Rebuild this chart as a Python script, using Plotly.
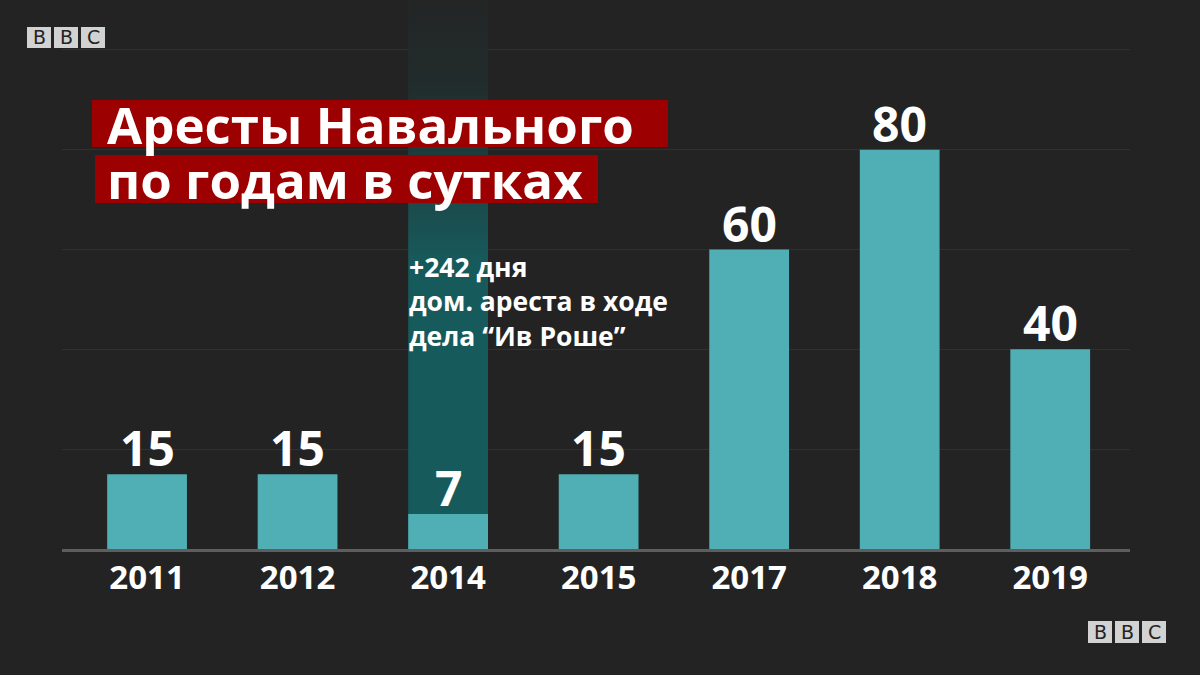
import plotly.graph_objects as go

years = ["2011", "2012", "2014", "2015", "2017", "2018", "2019"]
days = [15, 15, 7, 15, 60, 80, 40]
value_labels = ["15", "15", "7", "15", "60", "80", "40"]
title_lines = ["Аресты Навального", "по годам в сутках"]
note_text = "+242 дня<br>дом. ареста в ходе<br>дела “Ив Роше”"
highlight_year = "2014"

BG = "#232323"
BAR = "#4fafb5"
COLUMN = "#175a5c"
RED = "#9c0000"
FONT = "Open Sans"

W, H = 1200, 675
ML, MR, MT, MB = 62, 70, 0, 126
PW, PH = W - ML - MR, H - MT - MB
XR = [-0.565, 6.53]
YMAX = 110
HALF = 0.265


def px(xp):
    return (xp - ML) / PW


def py(yp):
    return (H - MB - yp) / PH


fig = go.Figure()

# highlighted background column (gradient fading to the top)
hi = years.index(highlight_year)
fig.add_trace(go.Scatter(
    x=[hi - HALF, hi + HALF, hi + HALF, hi - HALF, hi - HALF],
    y=[0, 0, YMAX, YMAX, 0], xaxis="x", yaxis="y",
    mode="none", fill="toself",
    fillgradient=dict(type="vertical", colorscale=[
        [0.0, COLUMN], [0.52, COLUMN], [0.6, "#1a4f50"], [0.73, "#1e3a3b"],
        [0.85, "#222c2c"], [1.0, "#232525"]]),
    hoverinfo="skip", showlegend=False,
))

fig.add_trace(go.Bar(
    x=years, y=days, xaxis="x2", yaxis="y",
    marker=dict(color=BAR, line=dict(width=0)),
    hoverinfo="skip", showlegend=False,
))

for i, (v, lab) in enumerate(zip(days, value_labels)):
    fig.add_annotation(xref="x", yref="y", x=i, y=v, text=lab, showarrow=False,
                       xanchor="center", yanchor="bottom", yshift=-8,
                       font=dict(family=FONT, size=48, color="white", weight="bold"))

# title boxes
fig.add_shape(type="rect", xref="paper", yref="paper", x0=px(92), x1=px(668),
              y0=py(147), y1=py(100), fillcolor=RED, line=dict(width=0), layer="above")
fig.add_shape(type="rect", xref="paper", yref="paper", x0=px(95), x1=px(598),
              y0=py(203), y1=py(155), fillcolor=RED, line=dict(width=0), layer="above")

fig.add_annotation(xref="paper", yref="paper", x=px(105), y=py(124), text=title_lines[0],
                   xanchor="left", yanchor="middle", showarrow=False,
                   font=dict(family=FONT, size=51, color="white", weight="bold"))
fig.add_annotation(xref="paper", yref="paper", x=px(105), y=py(179), text=title_lines[1],
                   xanchor="left", yanchor="middle", showarrow=False,
                   font=dict(family=FONT, size=51, color="white", weight="bold"))

fig.add_annotation(xref="paper", yref="paper", x=px(407), y=py(247), text=note_text,
                   xanchor="left", yanchor="top", align="left", showarrow=False,
                   font=dict(family=FONT, size=26.5, color="white", weight="bold"))


# BBC logos
def bbc(x_left, y_top, w, h, gap):
    for i, ch in enumerate("BBC"):
        x0 = x_left + i * (w + gap)
        fig.add_shape(type="rect", xref="paper", yref="paper", x0=px(x0), x1=px(x0 + w),
                      y0=py(y_top + h), y1=py(y_top), fillcolor="#d2d2d2",
                      line=dict(width=0), layer="above")
        fig.add_annotation(xref="paper", yref="paper", x=px(x0 + w / 2), y=py(y_top + h / 2),
                           text=ch, showarrow=False, xanchor="center", yanchor="middle",
                           font=dict(family="DejaVu Sans", size=19, color="#222222"))


bbc(27, 27, 24, 21, 3)
bbc(1088, 621, 24, 22, 3)

fig.update_layout(
    width=W, height=H, paper_bgcolor=BG, plot_bgcolor=BG,
    margin=dict(l=ML, r=MR, t=MT, b=MB), bargap=0.47,
    xaxis=dict(type="linear", range=XR, showgrid=False, showline=False, zeroline=False,
               showticklabels=False, ticks=""),
    xaxis2=dict(type="category", range=XR, overlaying="x", side="bottom", showgrid=False,
                showline=True, linecolor="#5e5e5e", linewidth=3, ticks="", zeroline=False,
                ticklabelstandoff=-3,
                tickfont=dict(family=FONT, size=33, color="white", weight="bold")),
    yaxis=dict(range=[0, YMAX], dtick=20, showgrid=True, gridcolor="#303030", gridwidth=1,
               showticklabels=False, zeroline=False, showline=False),
)

fig.write_html("out.html", config={"displayModeBar": False},
               post_script="document.body.style.margin='0';document.body.style.background='#232323';")
